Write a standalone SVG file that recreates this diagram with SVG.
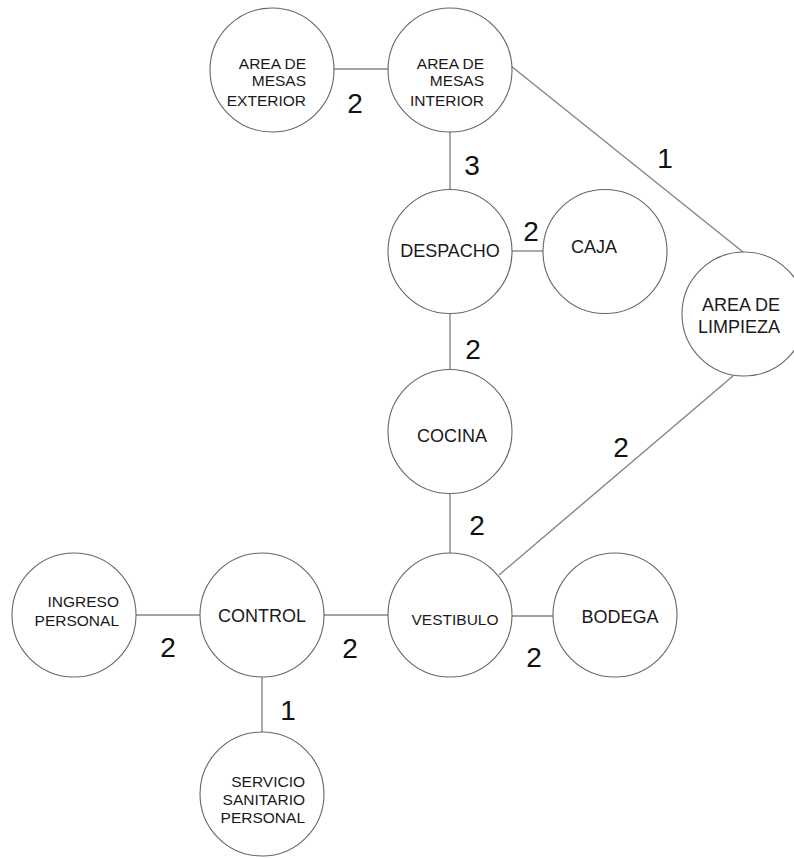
<svg xmlns="http://www.w3.org/2000/svg" width="794" height="858" viewBox="0 0 794 858">
<style>
.node circle{fill:#fff;stroke:#666;stroke-width:1.1}
.t{font-family:"Liberation Sans",Arial,sans-serif;fill:#1a1a1a}
.s{font-size:15.5px}
.m{font-size:18px}
.e{text-anchor:end}
.c{text-anchor:middle}
.lbl{font-family:"Liberation Sans",Arial,sans-serif;font-size:28px;fill:#111;text-anchor:middle}
#connectors line{stroke:#858585;stroke-width:1.4}
</style>
<rect width="794" height="858" fill="#fff"/>
<g id="connectors">
<line x1="334" y1="69" x2="388" y2="69"/>
<line x1="511" y1="66" x2="743" y2="252"/>
<line x1="450" y1="132" x2="450" y2="189"/>
<line x1="512" y1="251" x2="543" y2="251"/>
<line x1="450" y1="314" x2="450" y2="369"/>
<line x1="450" y1="494" x2="450" y2="553"/>
<line x1="733" y1="376" x2="499" y2="575"/>
<line x1="136" y1="615" x2="200" y2="615"/>
<line x1="324" y1="615" x2="388" y2="615"/>
<line x1="512" y1="616" x2="553" y2="616"/>
<line x1="262" y1="677" x2="262" y2="732"/>
<text class="lbl" x="355" y="113">2</text>
<text class="lbl" x="472" y="175">3</text>
<text class="lbl" x="665" y="168">1</text>
<text class="lbl" x="531" y="241">2</text>
<text class="lbl" x="473" y="359">2</text>
<text class="lbl" x="621" y="457">2</text>
<text class="lbl" x="477" y="535">2</text>
<text class="lbl" x="168" y="657">2</text>
<text class="lbl" x="350" y="658">2</text>
<text class="lbl" x="534" y="667">2</text>
<text class="lbl" x="288" y="720">1</text>
</g>
<g id="exterior" class="node">
<circle cx="272" cy="70" r="62"/>
<text class="t s e" x="306" y="69">AREA DE</text>
<text class="t s e" x="306" y="86">MESAS</text>
<text class="t s e" x="306" y="106">EXTERIOR</text>
</g>
<g id="interior" class="node">
<circle cx="450" cy="70" r="62"/>
<text class="t s e" x="484" y="69">AREA DE</text>
<text class="t s e" x="484" y="86">MESAS</text>
<text class="t s e" x="484" y="106">INTERIOR</text>
</g>
<g id="despacho" class="node">
<circle cx="450" cy="251.5" r="62"/>
<text class="t m c" x="450" y="257">DESPACHO</text>
</g>
<g id="caja" class="node">
<circle cx="605" cy="251.5" r="62"/>
<text class="t m c" x="594" y="253">CAJA</text>
</g>
<g id="limpieza" class="node">
<circle cx="744" cy="314" r="62"/>
<text class="t m e" x="780" y="311">AREA DE</text>
<text class="t m e" x="780" y="333">LIMPIEZA</text>
</g>
<g id="cocina" class="node">
<circle cx="450" cy="431.5" r="62"/>
<text class="t m c" x="452" y="442">COCINA</text>
</g>
<g id="vestibulo" class="node">
<circle cx="450" cy="615" r="62"/>
<text class="t s c" x="455" y="625">VESTIBULO</text>
</g>
<g id="bodega" class="node">
<circle cx="615" cy="615" r="62"/>
<text class="t m c" x="620" y="623">BODEGA</text>
</g>
<g id="control" class="node">
<circle cx="262" cy="615" r="62"/>
<text class="t m c" x="262" y="622">CONTROL</text>
</g>
<g id="ingreso" class="node">
<circle cx="74" cy="615" r="62"/>
<text class="t s e" x="119" y="607">INGRESO</text>
<text class="t s e" x="119" y="626">PERSONAL</text>
</g>
<g id="servicio" class="node">
<circle cx="262" cy="794" r="62"/>
<text class="t s e" x="305" y="787">SERVICIO</text>
<text class="t s e" x="305" y="805">SANITARIO</text>
<text class="t s e" x="305" y="823">PERSONAL</text>
</g>
</svg>
